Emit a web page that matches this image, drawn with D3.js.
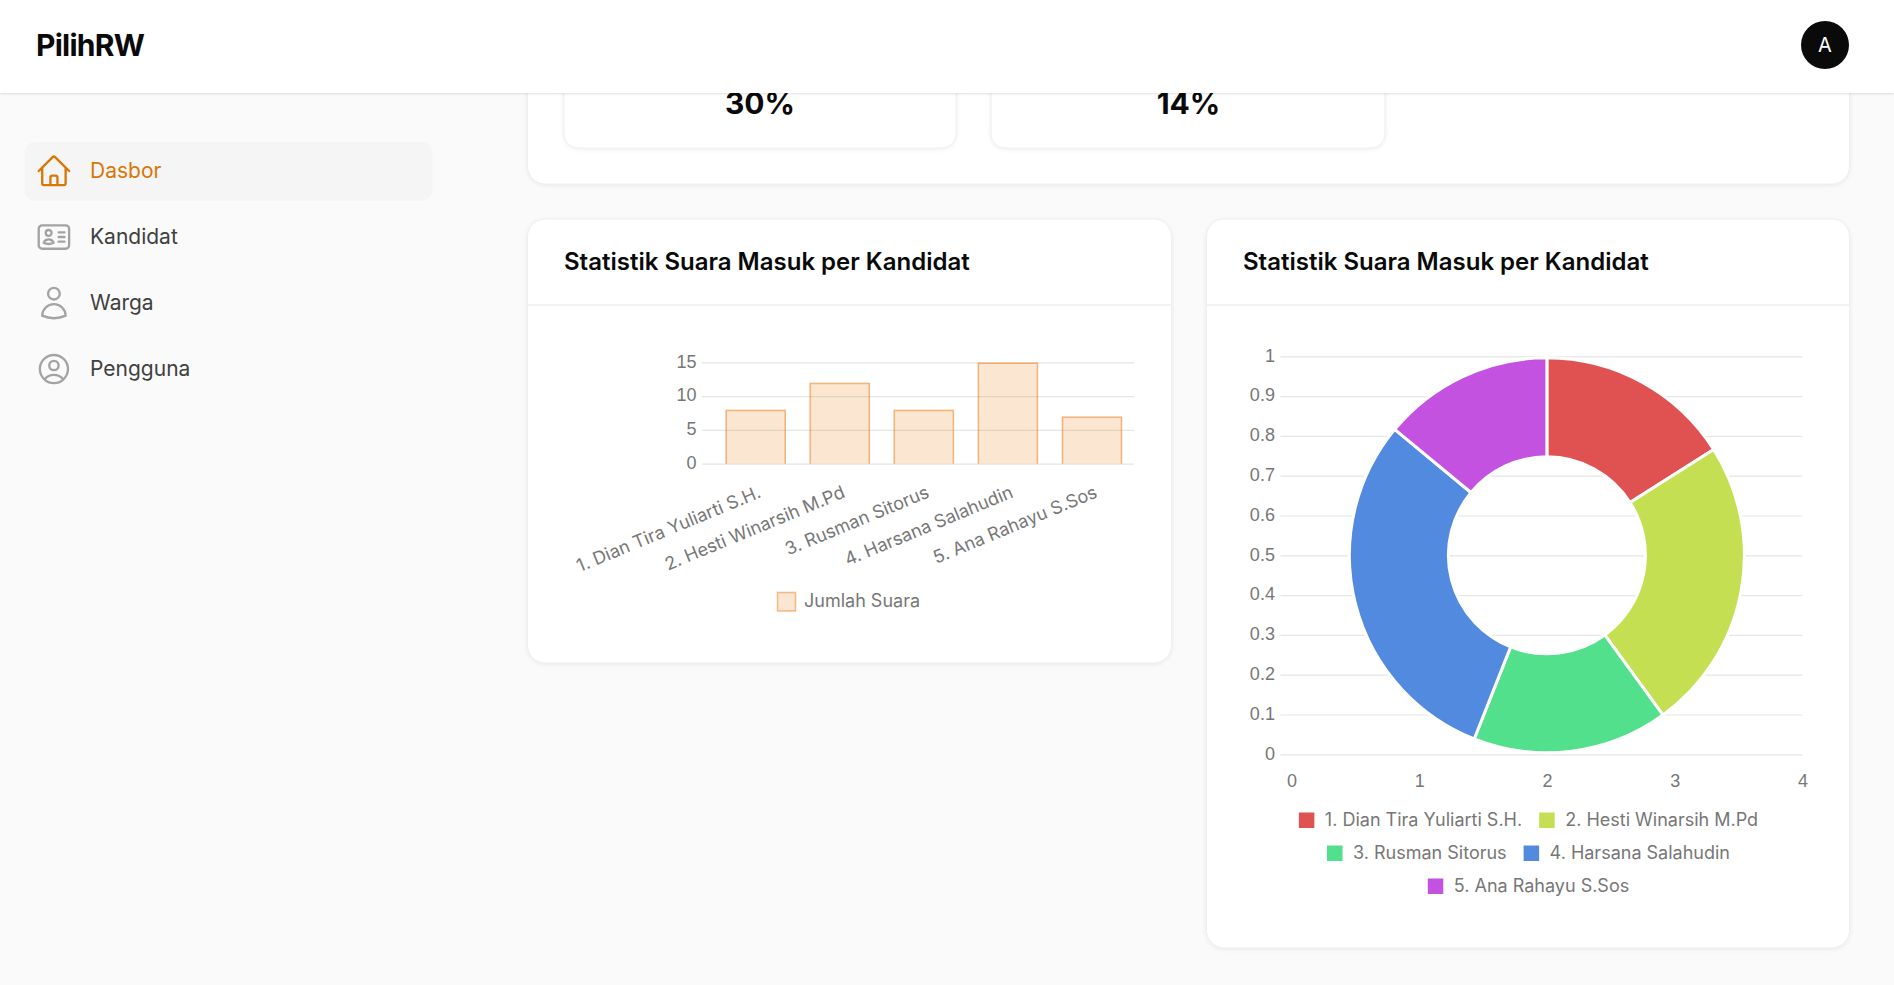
<!DOCTYPE html>
<html>
<head>
<meta charset="utf-8">
<script src="https://cdn.jsdelivr.net/npm/d3@7"></script>
<style>
  html, body { margin: 0; padding: 0; background: #fafafa; overflow: hidden; }
  svg { display: block; font-family: Inter, sans-serif; }
  .card { fill: #fff; stroke: #efefef; stroke-width: 1; filter: drop-shadow(0 1px 2px rgba(0,0,0,.07)); }
  .tick text { fill: #777; font-size: 18px; }
  .tick line { stroke: #e5e5e5; stroke-width: 1.2; }
</style>
</head>
<body>
<svg id="page" width="1894" height="985"></svg>
<script>
let candidates = ['1. Dian Tira Yuliarti S.H.', '2. Hesti Winarsih M.Pd', '3. Rusman Sitorus', '4. Harsana Salahudin', '5. Ana Rahayu S.Sos'];
let votes = [8, 12, 8, 15, 7];
let sliceColors = ['#e05252', '#c4e052', '#52e08c', '#528ae0', '#c452e0'];
let barTicks = [0, 5, 10, 15];
let gridYTicks = [0, .1, .2, .3, .4, .5, .6, .7, .8, .9, 1];
let gridXTicks = [0, 1, 2, 3, 4];
let percents = ['30%', '14%'];
let menuItems = ['Dasbor', 'Kandidat', 'Warga', 'Pengguna'];

let icons = {
    Dasbor: 'm2.25 12 8.954-8.955c.44-.439 1.152-.439 1.591 0L21.75 12M4.5 9.75v10.125c0 .621.504 1.125 1.125 1.125H9.75v-4.875c0-.621.504-1.125 1.125-1.125h2.25c.621 0 1.125.504 1.125 1.125V21h4.125c.621 0 1.125-.504 1.125-1.125V9.75M8.25 21h8.25',
    Kandidat: 'M15 9h3.75M15 12h3.75M15 15h3.75M4.5 19.5h15a2.25 2.25 0 0 0 2.25-2.25V6.75A2.25 2.25 0 0 0 19.5 4.5h-15a2.25 2.25 0 0 0-2.25 2.25v10.5A2.25 2.25 0 0 0 4.5 19.5Zm6-10.125a1.875 1.875 0 1 1-3.75 0 1.875 1.875 0 0 1 3.75 0Zm1.294 6.336a6.721 6.721 0 0 1-3.17.789 6.721 6.721 0 0 1-3.168-.789 3.376 3.376 0 0 1 6.338 0Z',
    Warga: 'M15.75 6a3.75 3.75 0 1 1-7.5 0 3.75 3.75 0 0 1 7.5 0ZM4.501 20.118a7.5 7.5 0 0 1 14.998 0A17.933 17.933 0 0 1 12 21.75c-2.676 0-5.216-.584-7.499-1.632Z',
    Pengguna: 'M17.982 18.725A7.488 7.488 0 0 0 12 15.75a7.488 7.488 0 0 0-5.982 2.975m11.963 0a9 9 0 1 0-11.963 0m11.963 0A8.966 8.966 0 0 1 12 21a8.966 8.966 0 0 1-5.982-2.275M15 9.75a3 3 0 1 1-6 0 3 3 0 0 1 6 0Z'
};

let svg = d3.select('#page');

function card(x, y, w, h, r) {
    svg.append('rect').attr('class', 'card')
        .attr('x', x).attr('y', y).attr('width', w).attr('height', h).attr('rx', r);
}

//the top card is scrolled under the header, so it starts above the fold
card(527.5, -60, 1322, 244, 18);
card(564, -60, 392, 208, 14);
card(991, -60, 394, 208, 14);
svg.selectAll('.percent').data(percents).join('text')
    .attr('class', 'percent')
    .attr('x', (d, i) => [760, 1188.5][i]).attr('y', 114)
    .attr('text-anchor', 'middle')
    .attr('font-size', 30).attr('font-weight', 700).attr('fill', '#0a0a0a')
    .text(d => d);

//chart cards
[[527.5, 644, 444], [1206.5, 643, 729]].forEach(c => {
    card(c[0], 219, c[1], c[2], 18);
    svg.append('line').attr('x1', c[0]).attr('x2', c[0] + c[1]).attr('y1', 305).attr('y2', 305)
        .attr('stroke', '#e8e8e8').attr('stroke-width', 1.2);
    svg.append('text').attr('x', c[0] + 36.5).attr('y', 270)
        .attr('font-size', 24).attr('font-weight', 600).attr('fill', '#0a0a0a')
        .text('Statistik Suara Masuk per Kandidat');
});

// bar chart
let barX = d3.scaleBand().domain(candidates).range([713.7, 1134]).paddingInner(.28).paddingOuter(.14);
let barY = d3.scaleLinear().domain([0, 15]).range([463.7, 362.4]);

let barAxis = svg.append('g').attr('transform', 'translate(1134,0)')
    .call(d3.axisLeft(barY).tickValues(barTicks).tickSize(432).tickPadding(5.5));
barAxis.select('.domain').remove();
barAxis.selectAll('text').attr('y', -1);

svg.selectAll('.bar').data(votes).join('rect')
    .attr('class', 'bar')
    .attr('x', (d, i) => barX(candidates[i]))
    .attr('y', d => barY(d))
    .attr('width', barX.bandwidth())
    .attr('height', d => barY(0) - barY(d))
    .attr('fill', 'rgba(234,130,30,.2)');

//border sits inside the bar and skips the base, as the chart library draws it
svg.selectAll('.bar-border').data(votes).join('path')
    .attr('class', 'bar-border')
    .attr('d', (d, i) => {
        let p = d3.path();
        let x0 = barX(candidates[i]) + .75, x1 = barX(candidates[i]) + barX.bandwidth() - .75;
        p.moveTo(x0, barY(0));
        p.lineTo(x0, barY(d) + .75);
        p.lineTo(x1, barY(d) + .75);
        p.lineTo(x1, barY(0));
        return p.toString();
    })
    .attr('fill', 'none')
    .attr('stroke', 'rgba(234,130,30,.5)')
    .attr('stroke-width', 1.5);

svg.selectAll('.bar-label').data(candidates).join('text')
    .attr('class', 'bar-label')
    .attr('transform', d => `translate(${barX(d) + barX.bandwidth() / 2 + 4},491) rotate(-22.5)`)
    .attr('text-anchor', 'end').attr('dy', '.35em')
    .attr('font-size', 18).attr('fill', '#777')
    .text(d => d);

svg.append('rect').attr('x', 777.5).attr('y', 592.5).attr('width', 18).attr('height', 18.5)
    .attr('fill', 'rgba(234,130,30,.2)').attr('stroke', 'rgba(234,130,30,.5)').attr('stroke-width', 1.5);
svg.append('text').attr('x', 804).attr('y', 601).attr('dy', '.35em')
    .attr('font-size', 18).attr('fill', '#777').text('Jumlah Suara');

// donut with the empty cartesian grid behind it
let gridX = d3.scaleLinear().domain([0, 4]).range([1291.4, 1802.4]);
let gridY = d3.scaleLinear().domain([0, 1]).range([754.3, 356.3]);

let gridLeft = svg.append('g').attr('transform', 'translate(1802.4,0)')
    .call(d3.axisLeft(gridY).tickValues(gridYTicks).tickSize(522).tickPadding(5.5).tickFormat(d => d));
gridLeft.select('.domain').remove();
gridLeft.selectAll('text').attr('y', -1);

let gridBottom = svg.append('g').attr('transform', 'translate(0,754.3)')
    .call(d3.axisBottom(gridX).tickValues(gridXTicks).tickSize(0).tickPadding(20).tickFormat(d => d));
gridBottom.select('.domain').remove();

let pie = d3.pie().sort(null);
let arc = d3.arc().innerRadius(98.5).outerRadius(197.5);

svg.append('g').attr('transform', `translate(${gridX(2)},${gridY(.5)})`)
    .selectAll('path').data(pie(votes)).join('path')
    .attr('d', arc)
    .attr('fill', (d, i) => sliceColors[i])
    .attr('stroke', '#fff')
    .attr('stroke-width', 3);

// legend rows, centred on the canvas like the chart library does it
let legendRows = [[0, 1], [2, 3], [4]];
legendRows.forEach((row, r) => {
    let g = svg.append('g');
    let x = 0;
    row.forEach(i => {
        g.append('rect').attr('x', x).attr('y', -7.5).attr('width', 15.5).attr('height', 15.5)
            .attr('fill', sliceColors[i]);
        let t = g.append('text').attr('x', x + 26).attr('dy', '.35em')
            .attr('font-size', 18).attr('fill', '#777').text(candidates[i]);
        x += 26 + t.node().getComputedTextLength() + 17;
    });
    let total = x - 17;
    g.attr('transform', `translate(${1528.5 - total / 2},${820 + r * 33})`);
});

// sidebar
svg.append('rect').attr('x', 24.5).attr('y', 142).attr('width', 408).attr('height', 59).attr('rx', 11)
    .attr('fill', '#f5f5f5');
menuItems.forEach((name, i) => {
    let cy = 171 + i * 66;
    let color = i === 0 ? '#d97706' : '#a3a3a3';
    svg.append('path')
        .attr('transform', `translate(35.2,${cy - 18.7}) scale(1.56)`)
        .attr('d', icons[name])
        .attr('fill', 'none').attr('stroke', color).attr('stroke-width', 1.5)
        .attr('stroke-linecap', 'round').attr('stroke-linejoin', 'round');
    svg.append('text').attr('x', 90).attr('y', cy).attr('dy', '.35em')
        .attr('font-size', 21).attr('font-weight', 400)
        .attr('fill', i === 0 ? '#d97706' : '#404040')
        .text(name);
});

// header
svg.append('rect').attr('width', 1894).attr('height', 93).attr('fill', '#fff')
    .style('filter', 'drop-shadow(0 1px 1px rgba(0,0,0,.12))');
svg.append('text').attr('x', 36).attr('y', 56)
    .attr('font-size', 30).attr('font-weight', 700).attr('letter-spacing', -.75).attr('fill', '#0a0a0a').text('PilihRW');
svg.append('circle').attr('cx', 1825).attr('cy', 45).attr('r', 24).attr('fill', '#0a0a0a');
svg.append('text').attr('x', 1825).attr('y', 45).attr('dy', '.35em').attr('text-anchor', 'middle')
    .attr('font-size', 20).attr('font-weight', 400).attr('fill', '#fff').text('A');
</script>
</body>
</html>
